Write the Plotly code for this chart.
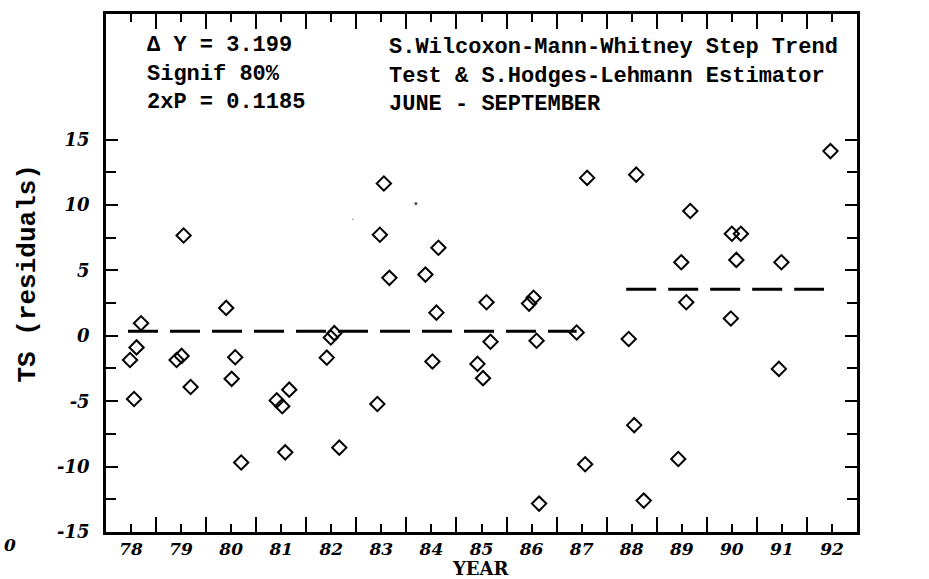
import plotly.graph_objects as go

# ---- data ----
years = [77.98, 78.06, 78.11, 78.20, 79.05, 78.91, 79.01, 79.19, 79.90, 80.08, 80.01, 80.20,
         80.91, 81.02, 81.16, 81.08,
         81.91, 81.99, 82.06, 82.16, 82.92, 82.97, 83.05, 83.16, 83.88, 84.02, 84.10, 84.14,
         84.92, 85.03, 85.10, 85.18, 85.95, 86.04, 86.10, 86.15, 86.90, 87.07, 87.11,
         87.94, 88.05, 88.09, 88.24, 88.93, 88.99, 89.09, 89.17, 89.98, 90.00, 90.09, 90.18,
         90.94, 90.99, 91.97]
residuals = [-1.85, -4.83, -0.89, 0.96, 7.67, -1.85, -1.54, -3.92, 2.13, -1.64, -3.29, -9.69,
             -4.94, -5.39, -4.12, -8.91,
             -1.67, -0.13, 0.20, -8.55, -5.21, 7.72, 11.64, 4.43, 4.68, -1.97, 1.77, 6.73,
             -2.15, -3.24, 2.56, -0.46, 2.46, 2.91, -0.38, -12.83, 0.25, -9.82, 12.07,
             -0.25, -6.83, 12.32, -12.60, -9.42, 5.62, 2.56, 9.54, 1.32, 7.80, 5.80, 7.80,
             -2.53, 5.62, 14.12]

step1_x = [77.94, 86.90]
step1_y = [0.35, 0.35]
step2_x = [87.89, 91.84]
step2_y = [3.55, 3.55]

speck_x = [83.69, 82.43]
speck_y = [10.1, 8.9]

x_tick_vals = list(range(78, 93))
x_tick_text = [str(v) for v in x_tick_vals]
x_minor_vals = [v + 0.5 for v in range(78, 92)]
y_tick_vals = [-15, -10, -5, 0, 5, 10, 15]
y_tick_text = ["-15", "-10", "-5", "0", "5", "10", "15"]
y_minor_vals = [-12.5, -7.5, -2.5, 2.5, 7.5, 12.5]

left_lines = ["\u0394 Y = 3.199", "Signif 80%", "2xP = 0.1185"]
right_lines = ["S.Wilcoxon-Mann-Whitney Step Trend",
               "Test & S.Hodges-Lehmann Estimator",
               "JUNE - SEPTEMBER"]

# ---- layout geometry ----
W, H = 929, 579
L, R, T, B = 106, 857, 11, 532


def px(p):
    return (p - L) / (R - L)


def py(p):
    return (B - p) / (B - T)


fig = go.Figure()
for sx, sy in ((step1_x, step1_y), (step2_x, step2_y)):
    fig.add_trace(go.Scatter(x=sx, y=sy, mode="lines",
                             line=dict(color="black", width=3, dash="30px,12px"),
                             showlegend=False, hoverinfo="skip"))
fig.add_trace(go.Scatter(x=years, y=residuals, mode="markers",
                         marker=dict(symbol="diamond-open", size=11, color="black",
                                     line=dict(width=2, color="black")),
                         showlegend=False))
fig.add_trace(go.Scatter(x=speck_x, y=speck_y, mode="markers",
                         marker=dict(symbol="circle", size=[4, 2], color="black"),
                         showlegend=False, hoverinfo="skip"))

xfont = dict(family="DejaVu Serif", size=17, color="black", weight="bold", style="italic")
yfont = dict(family="DejaVu Serif", size=18, color="black", weight="bold", style="italic")

fig.update_xaxes(range=[77.5, 92.5], tickmode="array", tickvals=x_tick_vals, ticktext=x_tick_text,
                 ticks="inside", ticklen=8, tickwidth=2, tickcolor="black",
                 minor=dict(tickmode="array", tickvals=x_minor_vals, ticks="inside",
                            ticklen=15, tickwidth=2, tickcolor="black"),
                 showline=True, linecolor="black", linewidth=2.5, mirror="ticks",
                 showgrid=False, zeroline=False, tickfont=xfont)
fig.update_yaxes(range=[-15, 24.6], tickmode="array", tickvals=y_tick_vals, ticktext=y_tick_text,
                 ticks="inside", ticklen=12, tickwidth=2, tickcolor="black",
                 minor=dict(tickmode="array", tickvals=y_minor_vals, ticks="inside",
                            ticklen=10, tickwidth=2, tickcolor="black"),
                 showline=True, linecolor="black", linewidth=2.5, mirror="ticks",
                 showgrid=False, zeroline=False, tickfont=yfont, ticklabelstandoff=10)

mono = "Liberation Mono"
ann = [
    dict(text="<br>".join(left_lines), x=px(145), y=py(71), xref="paper", yref="paper",
         xanchor="left", yanchor="middle", align="left", showarrow=False,
         font=dict(family=mono, size=22, color="black", weight="bold")),
    dict(text="<br>".join(right_lines), x=px(387), y=py(73), xref="paper", yref="paper",
         xanchor="left", yanchor="middle", align="left", showarrow=False,
         font=dict(family=mono, size=22, color="black", weight="bold")),
    dict(text="TS (residuals)", x=px(28), y=py(272), xref="paper", yref="paper",
         xanchor="center", yanchor="middle", textangle=-90, showarrow=False,
         font=dict(family=mono, size=26, color="black", weight="bold")),
    dict(text="YEAR", x=px(481), y=py(569), xref="paper", yref="paper",
         xanchor="center", yanchor="middle", showarrow=False,
         font=dict(family="DejaVu Serif", size=18, color="black", weight="bold")),
    dict(text="0", x=px(10), y=py(545), xref="paper", yref="paper",
         xanchor="center", yanchor="middle", showarrow=False,
         font=dict(family="DejaVu Serif", size=17, color="black", weight="bold",
                   style="italic")),
]

fig.update_layout(width=W, height=H, margin=dict(l=L, r=W - R, t=T, b=H - B),
                  paper_bgcolor="white", plot_bgcolor="white", annotations=ann)

fig.write_html("out.html")
